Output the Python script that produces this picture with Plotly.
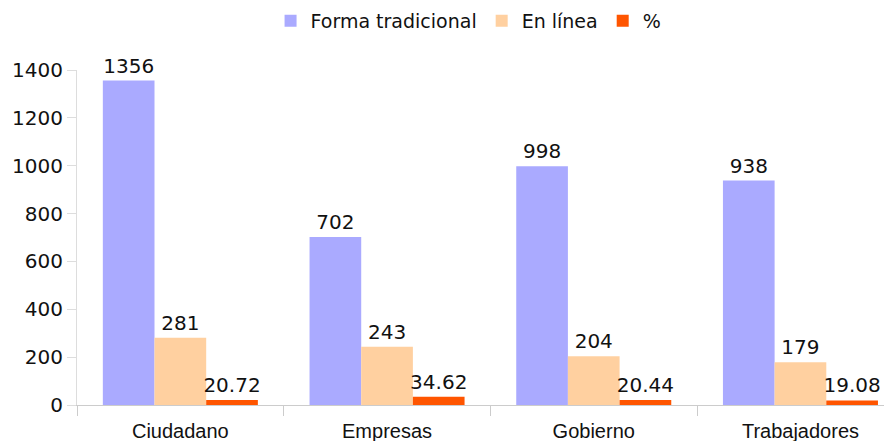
import plotly.graph_objects as go

categories = ["Ciudadano", "Empresas", "Gobierno", "Trabajadores"]
forma_tradicional = [1356, 702, 998, 938]
en_linea = [281, 243, 204, 179]
porcentaje = [20.72, 34.62, 20.44, 19.08]
series_names = ["Forma tradicional", "En línea", "%"]
colors = ["#aaaaff", "#ffd0a0", "#ff5500"]
y_ticks = [0, 200, 400, 600, 800, 1000, 1200, 1400]

FONT = "DejaVu Sans"

fig = go.Figure()
for name, vals, col in zip(series_names, [forma_tradicional, en_linea, porcentaje], colors):
    fig.add_trace(go.Bar(
        x=categories, y=vals, name=name,
        marker=dict(color=col, line=dict(width=0)),
        text=[str(v) for v in vals],
        textposition="outside",
        textfont=dict(family=FONT, size=20, color="#111111"),
        cliponaxis=False,
        constraintext="none",
    ))

fig.update_layout(
    width=884, height=433,
    barmode="group", bargap=0.25, bargroupgap=0,
    plot_bgcolor="white", paper_bgcolor="white",
    margin=dict(l=69, r=0, t=62, b=36, autoexpand=False),
    font=dict(family=FONT, size=20, color="#111111"),
    legend=dict(
        orientation="h", xref="container", yref="container",
        x=0.521, xanchor="center", y=0.97, yanchor="middle",
        font=dict(family=FONT, size=19, color="#111111"),
        itemwidth=30, tracegroupgap=0,
    ),
    xaxis=dict(
        type="category", range=[-0.5, -0.5 + 815 / 206.7],
        showline=True, linecolor="#cccccc", linewidth=1,
        ticks="outside", tickson="boundaries", ticklen=10, tickcolor="#cccccc",
        ticklabelstandoff=8,
        showgrid=False, zeroline=False, automargin=False,
        tickfont=dict(family="Liberation Sans", size=20, color="#111111"),
    ),
    yaxis=dict(
        range=[0, 1400], tickvals=y_ticks,
        showline=True, linecolor="#dddddd", linewidth=1,
        ticks="outside", ticklen=9, tickcolor="#dddddd",
        showgrid=False, zeroline=False, automargin=False,
        tickfont=dict(family=FONT, size=20, color="#111111"),
    ),
)

fig.write_html("out.html")
